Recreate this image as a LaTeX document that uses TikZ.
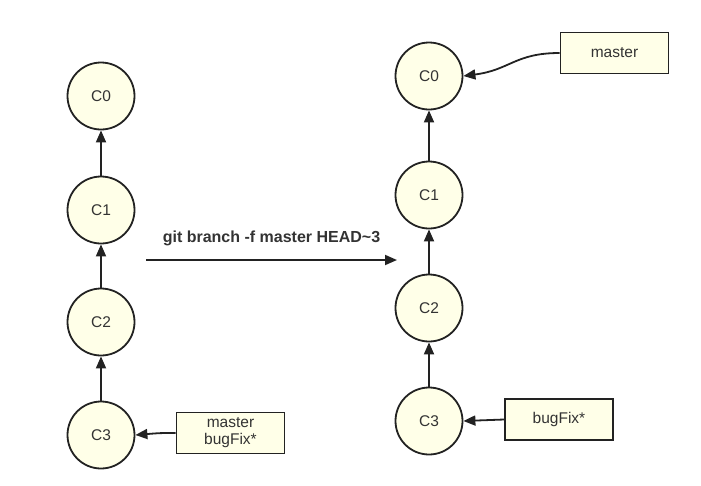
\documentclass[tikz,border=0pt]{standalone}
\usepackage{fontspec}
\setmainfont{Liberation Sans}
\usetikzlibrary{arrows.meta}
\definecolor{fillc}{HTML}{FFFFE8}
\definecolor{linec}{HTML}{222222}
\definecolor{textc}{HTML}{333333}
\begin{document}
\begin{tikzpicture}[x=1pt,y=-1pt,
  commit/.style={circle,draw=linec,line width=1.8pt,fill=fillc,minimum size=67pt,inner sep=0pt,text=textc,font=\fontsize{15.5}{18}\selectfont},
  label box/.style={rectangle,draw=linec,line width=1.8pt,fill=fillc,minimum width=108pt,minimum height=41pt,inner sep=0pt,text=textc,align=center,font=\fontsize{15.5}{17}\selectfont},
  link/.style={draw=linec,line width=1.8pt,-{Triangle[length=12pt,width=10pt]}}]
\useasboundingbox (0,0) rectangle (701,485);
% left
\node[commit] (L0) at (101,96) {C0};
\node[commit] (L1) at (101,210) {C1};
\node[commit] (L2) at (101,322) {C2};
\node[commit] (L3) at (101,435) {C3};
\draw[link] (L1) -- (L0);
\draw[link] (L2) -- (L1);
\draw[link] (L3) -- (L2);
\node[label box] (LB) at (230.5,433) {master\\bugFix*};
\draw[link] (LB.west) .. controls (160,433) .. (L3.east);
% right
\node[commit] (R0) at (429,76) {C0};
\node[commit] (R1) at (429,195) {C1};
\node[commit] (R2) at (429,308) {C2};
\node[commit] (R3) at (429,421) {C3};
\draw[link] (R1) -- (R0);
\draw[link] (R2) -- (R1);
\draw[link] (R3) -- (R2);
\node[label box] (RB) at (559,419.5) {bugFix*};
\draw[link] (RB.west) .. controls (490,420) .. (R3.east);
\node[label box] (TB) at (614.5,53) {master};
\draw[link] (TB.west) .. controls (515,53) and (510,70) .. (R0.east);
% command
\coordinate (A1) at (146,260);
\coordinate (A2) at (397,260);
\draw[link] (A1) -- (A2) node[midway,above=10pt,text=textc,font=\bfseries\fontsize{16}{18}\selectfont] {git branch -f master HEAD\char`~3};
\end{tikzpicture}
\end{document}
